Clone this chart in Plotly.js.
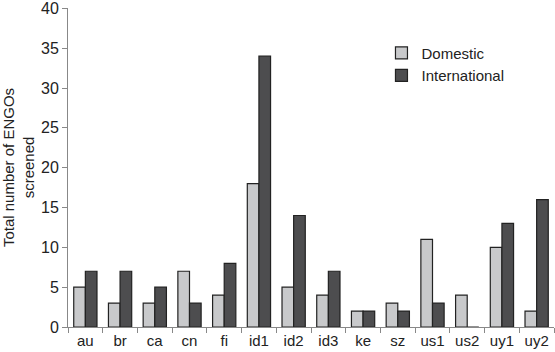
<!DOCTYPE html>
<html>
<head>
<meta charset="utf-8">
<script src="https://cdn.plot.ly/plotly-3.0.1.min.js"></script>
<style>html,body{margin:0;padding:0;background:#fff;}#chart{width:555px;height:352px;}</style>
</head>
<body>
<div id="chart"></div>
<script>
const categories = ["au","br","ca","cn","fi","id1","id2","id3","ke","sz","us1","us2","uy1","uy2"];
const domestic = [5,3,3,7,4,18,5,4,2,3,11,4,10,2];
const international = [7,7,5,3,8,34,14,7,2,2,3,0,13,16];
const seriesNames = ["Domestic","International"];
const yTicks = [0,5,10,15,20,25,30,35,40];

const font = {family: "Liberation Sans, Arial, sans-serif", size: 15, color: "#222"};
const data = [
  {type:"bar", x:categories, y:domestic, name:seriesNames[0],
   marker:{color:"#c8c9cb", line:{color:"#222", width:1.2}}},
  {type:"bar", x:categories, y:international, name:seriesNames[1],
   marker:{color:"#4d4d4f", line:{color:"#222", width:1.2}}}
];
const layout = {
  width:555, height:352,
  margin:{l:68, r:1, t:8, b:25},
  paper_bgcolor:"#fff", plot_bgcolor:"#fff",
  font: font,
  barmode:"group", bargap:0.33, bargroupgap:0,
  showlegend:true,
  legend:{x:0.645, y:0.91, xanchor:"left", yanchor:"top", bgcolor:"rgba(0,0,0,0)",
          font:{family:font.family, size:15, color:"#222"}, itemwidth:30, tracegroupgap:8},
  xaxis:{type:"category", showgrid:false, showline:true, linecolor:"#888", linewidth:1,
         ticks:"outside", tickson:"boundaries", ticklen:5, tickcolor:"#888",
         tickfont:{family:font.family, size:15, color:"#222"}, zeroline:false},
  yaxis:{range:[0,40.05], tickvals:yTicks, showgrid:false, showline:true, linecolor:"#888", linewidth:1,
         ticks:"outside", ticklen:5, tickcolor:"#888", zeroline:false,
         tickfont:{family:font.family, size:16, color:"#222"},
         title:{text:"Total number of ENGOs<br>screened", font:{family:font.family, size:15, color:"#222"}, standoff:9}}
};
Plotly.newPlot("chart", data, layout, {displayModeBar:false, staticPlot:true});
</script>
</body>
</html>
